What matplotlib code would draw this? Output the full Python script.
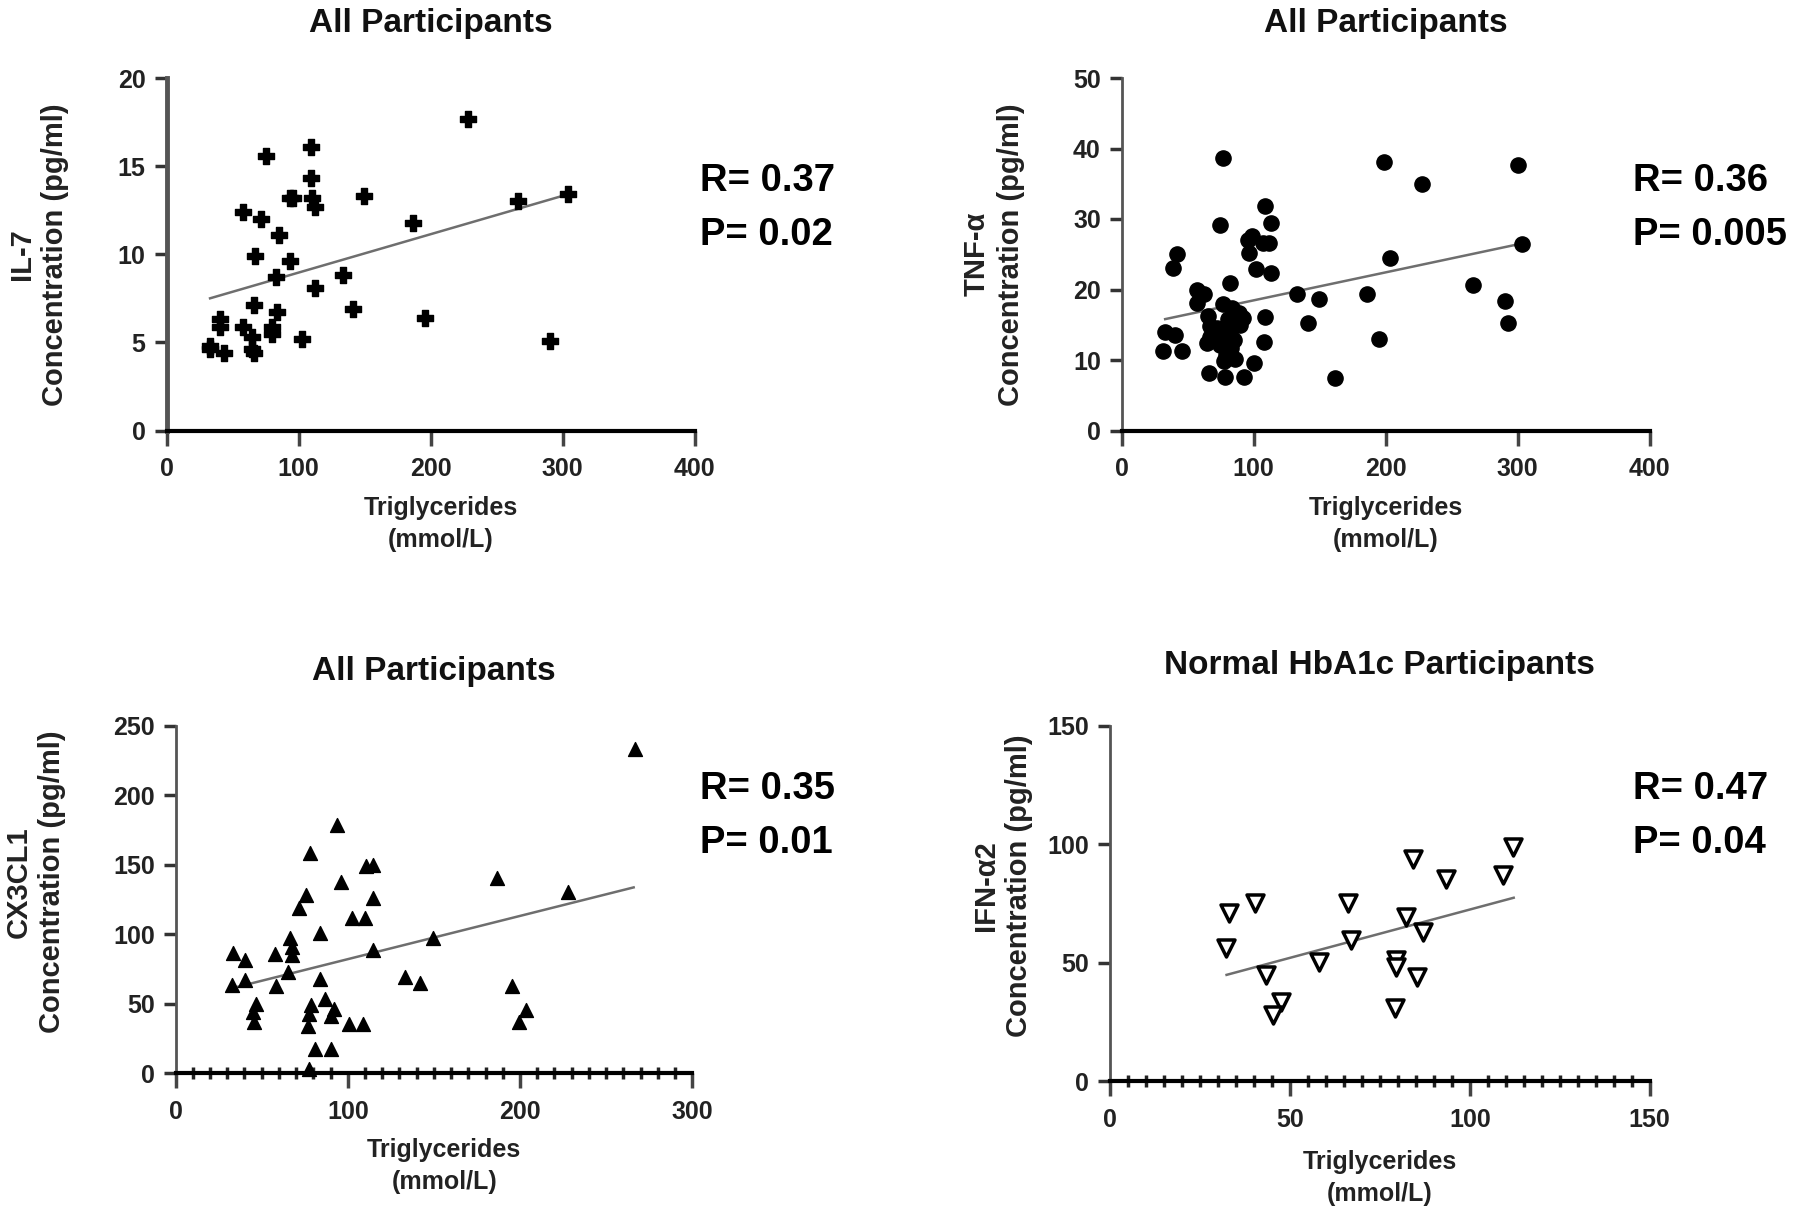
import numpy as np
import matplotlib
matplotlib.use("Agg")
import matplotlib.pyplot as plt
from matplotlib.ticker import MultipleLocator

plt.rcParams['font.family'] = ['Liberation Sans', 'DejaVu Sans']
plt.rcParams['font.weight'] = 'bold'

# IL-7 vs triglycerides (all participants)
il7_tg = [228.6, 109.6, 75.7, 109.6, 93.3, 96, 110, 112.8, 149.6, 303.8, 266.5, 57.6, 71.7,
          186.7, 85.2, 66.8, 93.3, 83.0, 133.4, 112.8, 141.5, 66.5, 83.5, 195.6, 40.6, 40.6,
          58.2, 64.9, 79.8, 79.8, 102.8, 290.8, 33.3, 43.3, 64.9, 66, 33]
il7_val = [17.7, 16.1, 15.6, 14.3, 13.2, 13.2, 13.2, 12.7, 13.3, 13.4, 13.0, 12.4, 12.0,
           11.8, 11.1, 9.9, 9.6, 8.7, 8.8, 8.1, 6.9, 7.1, 6.7, 6.4, 6.3, 5.9,
           5.9, 5.3, 5.9, 5.5, 5.2, 5.1, 4.6, 4.4, 4.6, 4.4, 4.8]
il7_fit_x = [33, 304]
il7_fit_y = [7.5, 13.4]

# TNF-a vs triglycerides (all participants)
tnf_tg = [76.7, 198.8, 300.4, 227.7, 108.9, 113.4, 74.6, 303.5, 95.4, 99, 107.4, 111.6, 96.5,
          42.1, 38.8, 203, 102, 113.4, 82.2, 266.2, 56.9, 62.6, 56.9, 132.8, 149.6, 186.2,
          290.6, 292.9, 141.2, 108.9, 195.1, 107.5, 32.5, 40.1, 31.6, 45.7, 65.4, 66.8, 64.5,
          66.8, 76.7, 83.7, 89.3, 92.1, 80.4, 86, 81.8, 77.6, 74.8, 83.2, 79, 86, 77.6, 100,
          66.2, 78, 92.6, 161.8, 85, 90, 72]
tnf_val = [38.7, 38.1, 37.6, 35.0, 31.9, 29.4, 29.1, 26.5, 27.0, 27.6, 26.6, 26.6, 25.2,
           25.0, 23.0, 24.4, 22.9, 22.4, 20.9, 20.6, 20.0, 19.3, 18.1, 19.3, 18.6, 19.3,
           18.3, 15.2, 15.3, 16.1, 13.0, 12.5, 14.0, 13.6, 11.3, 11.3, 16.2, 14.8, 12.4,
           13.3, 18.0, 17.4, 16.7, 16.0, 15.8, 14.9, 14.0, 13.0, 12.1, 11.7, 10.7, 10.2, 9.8, 9.6,
           8.1, 7.6, 7.6, 7.4, 12.8, 15.0, 14.5]
tnf_fit_x = [33, 300]
tnf_fit_y = [15.8, 26.4]

# CX3CL1 vs triglycerides (all participants)
cx3_tg = [266.7, 93.8, 77.8, 110.3, 114.6, 96.3, 186.8, 75.5, 71.6, 228, 114.6, 102.5, 109.7,
          84, 66.5, 67.5, 67.5, 33.5, 40.3, 57.6, 114.6, 149.4, 65.4, 33, 40.3, 58.2, 84,
          133.3, 142, 195.5, 46.9, 44.9, 45.7, 203.3, 199.6, 78.8, 77.6, 76.7, 87, 92.2, 90.1,
          100.8, 108.6, 80.9, 90.5, 77.4]
cx3_val = [233, 178.9, 158.4, 148.8, 150, 137.5, 140.4, 128.3, 118.7, 130.3, 126.4, 111.5, 111.5,
           100.6, 97, 91, 85, 86.2, 81.4, 85.5, 88.6, 97.5, 73, 63.8, 66.9, 62.9, 68.1,
           69.4, 65.2, 62.6, 50, 44, 36.8, 45.3, 36.8, 48.9, 42.8, 34.4, 53.7, 46.5, 41.6,
           35.6, 35.6, 17.6, 17.6, 3.1]
cx3_fit_x = [33, 266]
cx3_fit_y = [61.3, 133.7]

# IFN-a2 vs triglycerides (normal HbA1c)
ifn_tg = [111.9, 84.3, 93.3, 109.1, 40.2, 66.2, 33, 82.3, 87.1, 67, 32.2, 58.2, 79.4, 79.4,
          43.3, 85.4, 47.4, 45.2, 79.1]
ifn_val = [98.8, 93.9, 85.5, 86.9, 75, 75, 70.8, 69.4, 62.8, 59.6, 56.1, 50.5, 51.2, 48.4,
           44.9, 43.9, 33.6, 28, 30.9]
ifn_fit_x = [32.4, 112.2]
ifn_fit_y = [44.9, 77.4]

W, H = 1800, 1219
fig = plt.figure(figsize=(18, 12.19), dpi=100)


def make_ax(left, right, top, bottom):
    return fig.add_axes([left / W, 1 - bottom / H, (right - left) / W, (bottom - top) / H])


def style(ax, xmax, xstep, ymax, ystep, xminor=None, ylw=2.0):
    ax.set_xlim(0, xmax)
    ax.set_ylim(0, ymax)
    ax.spines['top'].set_visible(False)
    ax.spines['right'].set_visible(False)
    ax.spines['bottom'].set_linewidth(3)
    ax.spines['bottom'].set_color('black')
    ax.spines['left'].set_linewidth(ylw)
    ax.spines['left'].set_color('#555555')
    ax.xaxis.set_major_locator(MultipleLocator(xstep))
    ax.yaxis.set_major_locator(MultipleLocator(ystep))
    if xminor:
        ax.xaxis.set_minor_locator(MultipleLocator(xminor))
        ax.tick_params(axis='x', which='minor', direction='inout', length=8, width=2.5, color='#222222')
    ax.tick_params(axis='x', which='major', direction='out', length=11, width=2.5, color='#444444',
                   labelsize=18, labelcolor='#222222', pad=8)
    ax.tick_params(axis='y', which='major', direction='out', length=9, width=2.5, color='#333333',
                   labelsize=18, labelcolor='#222222', pad=6)
    for lab in ax.get_xticklabels() + ax.get_yticklabels():
        lab.set_fontweight('bold')


def labels(ax, title, ylab, ylab_x, ylab_y, title_y, xlab_y, xlab_x=0.5):
    ax.text(0.5, title_y, title, transform=ax.transAxes, ha='center', va='center',
            fontsize=24, fontweight='bold', color='#111111')
    ax.text(xlab_x, xlab_y, 'Triglycerides\n(mmol/L)', transform=ax.transAxes, ha='center',
            va='center', fontsize=18, fontweight='bold', color='#222222', linespacing=1.45)
    ax.text(ylab_x, ylab_y, ylab + '\nConcentration (pg/ml)', transform=ax.transAxes, rotation=90,
            ha='center', va='center', multialignment='center', fontsize=21, fontweight='bold',
            color='#222222', linespacing=1.25)


def stats(x, y, r, p):
    fig.text(x / W, 1 - y / H, 'R= ' + r, ha='left', va='center', fontsize=27.5, fontweight='bold')
    fig.text(x / W, 1 - (y + 54) / H, 'P= ' + p, ha='left', va='center', fontsize=27.5, fontweight='bold')


# panel 1
ax1 = make_ax(166.5, 694.6, 78, 430.5)
style(ax1, 400, 100, 20, 5, ylw=3.5)
ax1.scatter(il7_tg, il7_val, marker='P', s=120, color='black', zorder=3, clip_on=False)
ax1.plot(il7_fit_x, il7_fit_y, color='#6e6e6e', lw=1.8, zorder=2)
labels(ax1, 'All Participants', 'IL-7', -0.242, 0.5, 1.156, -0.265, 0.52)
stats(700, 181, '0.37', '0.02')

# panel 2
ax2 = make_ax(1121.6, 1649.7, 78, 430.5)
style(ax2, 400, 100, 50, 10)
ax2.scatter(tnf_tg, tnf_val, marker='o', s=120, color='black', zorder=3, clip_on=False)
ax2.plot(tnf_fit_x, tnf_fit_y, color='#6e6e6e', lw=1.8, zorder=2)
labels(ax2, 'All Participants', 'TNF-α', -0.242, 0.5, 1.156, -0.265)
stats(1633, 181, '0.36', '0.005')

# panel 3
ax3 = make_ax(175.6, 692.2, 725.6, 1073.4)
style(ax3, 300, 100, 250, 50, xminor=10)
ax3.scatter(cx3_tg, cx3_val, marker='^', s=100, color='black', zorder=3, clip_on=False)
ax3.plot(cx3_fit_x, cx3_fit_y, color='#6e6e6e', lw=1.8, zorder=2)
labels(ax3, 'All Participants', 'CX3CL1', -0.272, 0.55, 1.155, -0.266, 0.52)
stats(700, 789, '0.35', '0.01')

# panel 4
ax4 = make_ax(1110, 1649.7, 725.5, 1081.4)
style(ax4, 150, 50, 150, 50, xminor=5)
ax4.scatter(ifn_tg, ifn_val, marker='v', s=150, facecolor='white', edgecolor='black',
            linewidths=2.5, zorder=3, clip_on=False)
ax4.plot(ifn_fit_x, ifn_fit_y, color='#6e6e6e', lw=1.8, zorder=2)
labels(ax4, 'Normal HbA1c Participants', 'IFN-α2', -0.199, 0.55, 1.168, -0.271)
stats(1633, 789, '0.47', '0.04')

fig.savefig('out.png', dpi=100, facecolor='white')
